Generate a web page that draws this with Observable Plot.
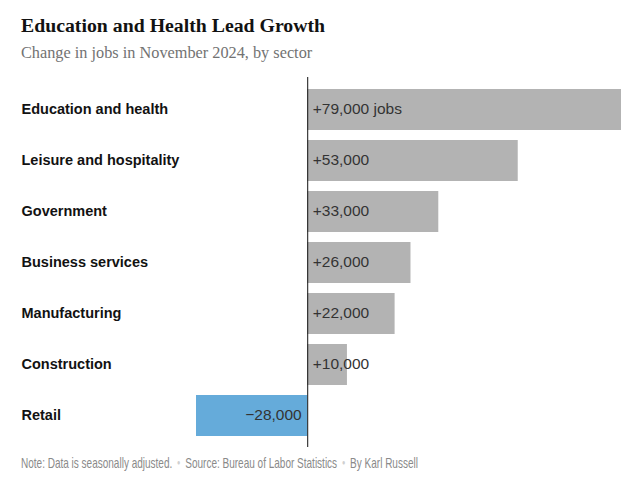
<!DOCTYPE html>
<html>
<head>
<meta charset="utf-8">
<script src="https://cdn.jsdelivr.net/npm/d3@7"></script>
<script src="https://cdn.jsdelivr.net/npm/@observablehq/plot@0.6"></script>
<style>
  body { margin: 0; background: #fff; width: 641px; }
  #header { position: relative; height: 70px; }
  #title { position: absolute; left: 21px; top: 14px; font-family: "Liberation Serif", "DejaVu Serif", serif; font-weight: bold; font-size: 19.8px; color: #121212; white-space: nowrap; }
  #subtitle { position: absolute; left: 21px; top: 43px; font-family: "Liberation Serif", "DejaVu Serif", serif; font-size: 16.3px; color: #727272; white-space: nowrap; }
  #footer { position: relative; height: 40px; font-family: "Liberation Sans", sans-serif; font-size: 14.5px; color: #8a8a8a; padding-top: 8px; white-space: nowrap; }
  #footer span.inner { display: inline-block; margin-left: 21px; transform: scaleX(0.69); transform-origin: left center; }
  .sep { color: #d0d0d0; margin: 0 7px; font-size: 8px; vertical-align: 3px; }
  svg { display: block; }
</style>
</head>
<body>
<div id="header">
  <div id="title">Education and Health Lead Growth</div>
  <div id="subtitle">Change in jobs in November 2024, by sector</div>
</div>
<div id="chart"></div>
<div id="footer"><span class="inner">Note: Data is seasonally adjusted.<span class="sep">●</span>Source: Bureau of Labor Statistics<span class="sep">●</span>By Karl Russell</span></div>
<script>
const sectors = ["Education and health", "Leisure and hospitality", "Government", "Business services", "Manufacturing", "Construction", "Retail"];
const jobs = [79000, 53000, 33000, 26000, 22000, 10000, -28000];
const valueLabels = ["+79,000 jobs", "+53,000", "+33,000", "+26,000", "+22,000", "+10,000", "\u221228,000"];

const data = sectors.map((s, i) => ({sector: s, value: jobs[i], label: valueLabels[i]}));
const pos = data.filter(d => d.value >= 0);
const neg = data.filter(d => d.value < 0);

const chart = Plot.plot({
  width: 641,
  height: 377,
  marginTop: 7,
  marginBottom: 0,
  marginLeft: 196,
  marginRight: 20,
  x: {domain: [-28000, 79000], axis: null},
  y: {domain: sectors, axis: null, padding: 0.2},
  style: {fontFamily: "Liberation Sans, Arial, sans-serif", background: "#fff"},
  marks: [
    Plot.barX(data, {x: "value", y: "sector", fill: d => d.value < 0 ? "#65abda" : "#b3b3b3"}),
    Plot.ruleX([0], {stroke: "#121212", strokeWidth: 1}),
    Plot.text(data, {y: "sector", text: "sector", frameAnchor: "left", dx: -175, dy: -1, textAnchor: "start", fontWeight: "bold", fontSize: 14.5, fill: "#121212"}),
    Plot.text(pos, {x: () => 0, y: "sector", text: "label", dx: 5, dy: -1, textAnchor: "start", fontSize: 15.5, fill: "#333"}),
    Plot.text(neg, {x: () => 0, y: "sector", text: "label", dx: -6, dy: -1, textAnchor: "end", fontSize: 15.5, fill: "#333"})
  ]
});
document.getElementById("chart").appendChild(chart);
</script>
</body>
</html>
